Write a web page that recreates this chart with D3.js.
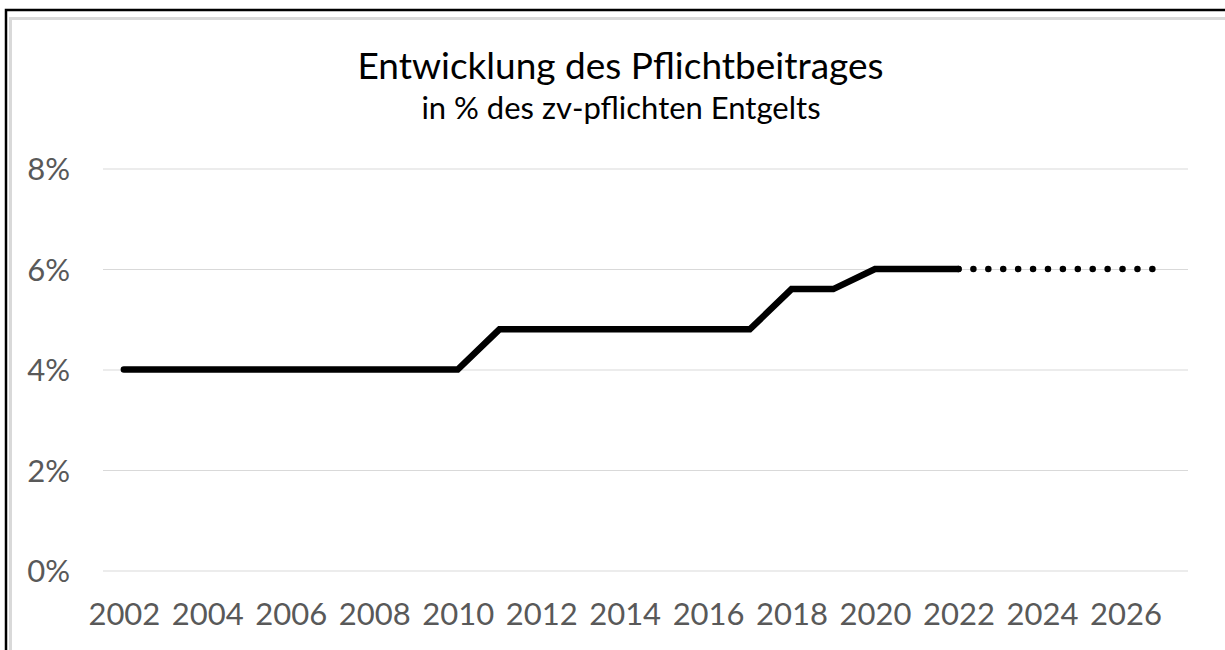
<!DOCTYPE html>
<html>
<head>
<meta charset="utf-8">
<script src="https://cdn.jsdelivr.net/npm/d3@7"></script>
<style>
  html, body { margin: 0; padding: 0; background: #fff; overflow: hidden; }
  svg { display: block; }
</style>
</head>
<body>
<svg id="chart" width="1225" height="650"></svg>
<script>
const years = ["2002","2003","2004","2005","2006","2007","2008","2009","2010","2011","2012","2013","2014","2015","2016","2017","2018","2019","2020","2021","2022","2023","2024","2025","2026","2027"];
const yearTicks = ["2002","2004","2006","2008","2010","2012","2014","2016","2018","2020","2022","2024","2026"];
// Pflichtbeitrag in % (actual, solid line)
const actual = [4.0,4.0,4.0,4.0,4.0,4.0,4.0,4.0,4.0,4.8,4.8,4.8,4.8,4.8,4.8,4.8,5.6,5.6,6.0,6.0,6.0,null,null,null,null,null];
// Forecast (dotted line)
const forecast = [null,null,null,null,null,null,null,null,null,null,null,null,null,null,null,null,null,null,null,null,6.0,6.0,6.0,6.0,6.0,6.0];
const yTicks = [0,2,4,6,8];
const titleText = "Entwicklung des Pflichtbeitrages";
const subtitleText = "in % des zv-pflichten Entgelts";

const svg = d3.select("#chart");
const font = "Lato, 'Open Sans', sans-serif";

// Frame
svg.append("rect").attr("x", 6).attr("y", 10).attr("width", 1400).attr("height", 800)
  .attr("fill", "none").attr("stroke", "#000").attr("stroke-width", 2.5);
svg.append("rect").attr("x", 10.5).attr("y", 18.5).attr("width", 1400).attr("height", 800)
  .attr("fill", "none").attr("stroke", "#d9d9d9").attr("stroke-width", 3);

const x = d3.scalePoint().domain(years).range([103, 1188]).padding(0.5);
const y = d3.scaleLinear().domain([0, 8]).range([570.5, 168.5]);

// Grid
const grid = svg.append("g").attr("transform", "translate(103,0)")
  .call(d3.axisLeft(y).tickValues(yTicks).tickSize(-(1188 - 103)).tickFormat(""));
grid.select(".domain").remove();
grid.selectAll("line").attr("stroke", "#d9d9d9").attr("stroke-width", 1);

// Y labels
const yAxis = svg.append("g").attr("transform", "translate(70,0)")
  .call(d3.axisLeft(y).tickValues(yTicks).tickSize(0).tickPadding(0).tickFormat(d => d + "%"));
yAxis.select(".domain").remove();
yAxis.selectAll("text").attr("font-family", font).attr("font-size", 31).attr("fill", "#595959")
  .attr("dy", "0.36em");

// X labels
const xAxis = svg.append("g").attr("transform", "translate(0,601)")
  .call(d3.axisBottom(x).tickValues(yearTicks).tickSize(0).tickPadding(0));
xAxis.select(".domain").remove();
xAxis.selectAll("text").attr("font-family", font).attr("font-size", 31).attr("fill", "#595959")
  .attr("dy", "0.78em");

// Lines
const line = d3.line().defined(d => d.v != null).x(d => x(d.year)).y(d => y(d.v));
const actualData = years.map((yr, i) => ({ year: yr, v: actual[i] }));
const forecastData = years.map((yr, i) => ({ year: yr, v: forecast[i] }));

const fpath = svg.append("path").datum(forecastData).attr("d", line)
  .attr("fill", "none").attr("stroke", "#000").attr("stroke-width", 6.5)
  .attr("stroke-linecap", "round");
const len = fpath.node().getTotalLength();
fpath.attr("stroke-dasharray", `0.01 ${(len / 14).toFixed(3)}`);

svg.append("path").datum(actualData).attr("d", line)
  .attr("fill", "none").attr("stroke", "#000").attr("stroke-width", 6.5)
  .attr("stroke-linejoin", "miter").attr("stroke-linecap", "round");

// Titles
svg.append("text").attr("x", 620.5).attr("y", 79).attr("text-anchor", "middle")
  .attr("font-family", font).attr("font-size", 37).attr("fill", "#000").text(titleText);
svg.append("text").attr("x", 621).attr("y", 119).attr("text-anchor", "middle")
  .attr("font-family", font).attr("font-size", 31).attr("fill", "#000").text(subtitleText);
</script>
</body>
</html>
